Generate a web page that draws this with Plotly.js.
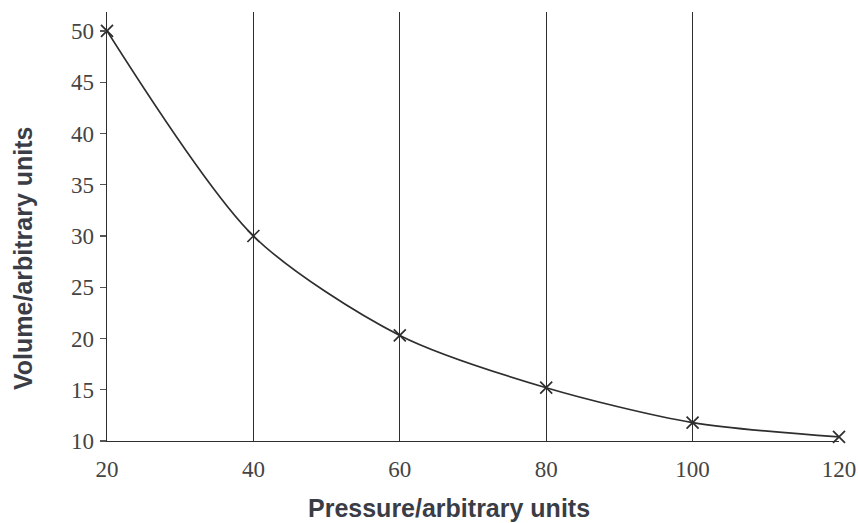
<!DOCTYPE html>
<html><head><meta charset="utf-8">
<script src="https://cdn.plot.ly/plotly-3.0.1.min.js"></script>
<style>body{margin:0;background:#fff}#c{width:858px;height:523px}</style>
</head><body><div id="c"></div>
<script>
const pressure = [20, 40, 60, 80, 100, 120];
const volume = [50, 30, 20.3, 15.2, 11.8, 10.4];
const xTicks = [20, 40, 60, 80, 100, 120];
const yTicks = [10, 15, 20, 25, 30, 35, 40, 45, 50];
const xTitle = 'Pressure/arbitrary units';
const yTitle = 'Volume/arbitrary units';

const ink = '#2e2e2e';
const titleFont = {family: 'Liberation Sans, Arial, sans-serif', size: 25, color: '#3a3d45', weight: 'bold'};
const tickFont = {family: 'Liberation Serif, serif', size: 23, color: '#444'};
const traces = [{
  x: pressure, y: volume, type: 'scatter', mode: 'lines+markers',
  line: {shape: 'spline', smoothing: 0.8, color: ink, width: 1.7},
  marker: {symbol: 'x-thin', size: 12, line: {color: ink, width: 1.7}},
  cliponaxis: false, hoverinfo: 'skip'
}];
const layout = {
  width: 858, height: 523,
  margin: {l: 107, r: 19, t: 12, b: 82},
  paper_bgcolor: '#fff', plot_bgcolor: '#fff',
  showlegend: false,
  xaxis: {
    range: [20, 120], tickvals: xTicks, ticktext: xTicks.map(String),
    showgrid: true, gridcolor: ink, gridwidth: 1.4, zeroline: false,
    showline: true, linecolor: ink, linewidth: 1.4,
    ticks: '', ticklabelstandoff: 7,
    tickfont: tickFont
  },
  yaxis: {
    range: [10, 51.85], tickvals: yTicks, ticktext: yTicks.map(String),
    showgrid: false, zeroline: false,
    showline: true, linecolor: ink, linewidth: 1.4,
    ticks: 'outside', ticklen: 6, tickcolor: '#555', tickwidth: 1.2,
    ticklabelstandoff: 1,
    tickfont: tickFont
  },
  annotations: [
    {text: xTitle, xref: 'paper', yref: 'paper', x: 0.467, y: -0.156,
     xanchor: 'center', yanchor: 'middle', showarrow: false, font: titleFont},
    {text: yTitle, xref: 'paper', yref: 'paper', x: 0, xshift: -84, y: 0.4266,
     xanchor: 'center', yanchor: 'middle', textangle: -90, showarrow: false, font: titleFont}
  ]
};
Plotly.newPlot('c', traces, layout, {displayModeBar: false, staticPlot: true});
</script></body></html>
